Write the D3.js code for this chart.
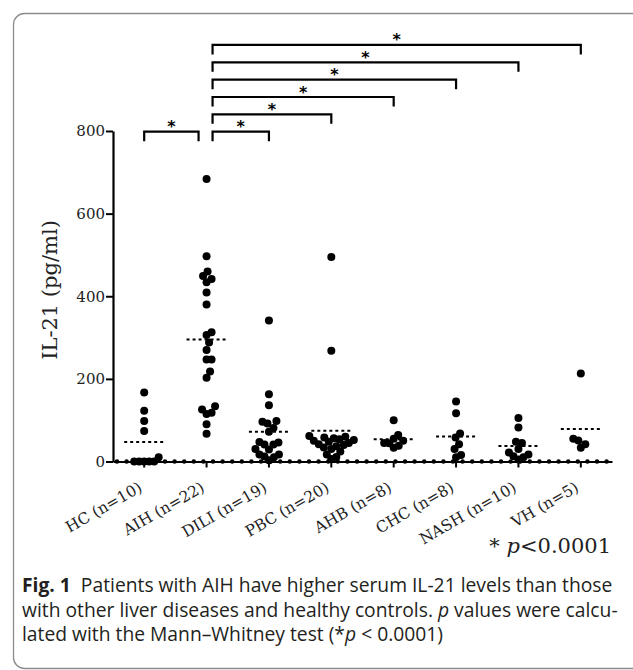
<!DOCTYPE html>
<html>
<head>
<meta charset="utf-8">
<script src="https://cdn.jsdelivr.net/npm/d3@7"></script>
<style>
    body { margin: 0; background: #fff; }
</style>
</head>
<body>
<div id="chart"></div>
<script>
// IL-21 serum levels per group (pg/ml)
var groups = ["HC (n=10)", "AIH (n=22)", "DILI (n=19)", "PBC (n=20)", "AHB (n=8)", "CHC (n=8)", "NASH (n=10)", "VH (n=5)"];
var hc = [167, 123, 98, 74, 10, 0, 0, 0, 0, 0];
var aih = [684, 497, 460, 449, 442, 434, 409, 380, 313, 306, 288, 270, 247, 247, 218, 203, 134, 126, 118, 115, 90, 67];
var dili = [341, 163, 136, 98, 96, 92, 81, 72, 47, 46, 41, 41, 30, 29, 17, 17, 12, 10, 3];
var pbc = [495, 268, 62, 60, 58, 56, 54, 52, 50, 48, 45, 42, 40, 37, 34, 30, 24, 17, 11, 6];
var ahb = [100, 64, 55, 50, 45, 44, 38, 33];
var chc = [145, 117, 68, 58, 42, 30, 16, 10];
var nash = [105, 82, 48, 45, 30, 22, 17, 13, 10, 5];
var vh = [213, 55, 51, 42, 33];
var groupValues = [hc, aih, dili, pbc, ahb, chc, nash, vh];
var yTicks = [0, 200, 400, 600, 800];
// significant pairs (group index), all * p<0.0001
var comparisons = [[0, 1], [1, 2], [1, 3], [1, 4], [1, 5], [1, 6], [1, 7]];
var sigMark = "*";

var W = 633, H = 670;
var plot = {left: 113, right: 612, top: 131, bottom: 461.5};
var serif = "DejaVu Serif";

var svg = d3.select("#chart").append("svg")
    .attr("width", W)
    .attr("height", H);

// card frame
svg.append("rect")
    .attr("x", 13.5).attr("y", 13.5)
    .attr("width", 680).attr("height", 655)
    .attr("rx", 11)
    .attr("fill", "none")
    .attr("stroke", "#8c8c8c")
    .attr("stroke-width", 1.3);

var x = d3.scaleBand().domain(groups).range([plot.left, plot.right]).padding(0);
var y = d3.scaleLinear().domain([0, 800]).range([plot.bottom, plot.top]);
function cx(g) { return x(g) + x.bandwidth() / 2; }

// y axis
var yAxis = svg.append("g")
    .attr("transform", "translate(" + plot.left + ",0)")
    .call(d3.axisLeft(y).tickValues(yTicks).tickSize(7).tickSizeOuter(0).tickPadding(1));
yAxis.select(".domain").attr("stroke-width", 2.2);
yAxis.selectAll(".tick line").attr("stroke-width", 2);
yAxis.selectAll("text")
    .attr("font-family", serif)
    .attr("font-size", 15)
    .attr("fill", "#222");

svg.append("text")
    .attr("transform", "translate(57," + 290 + ") rotate(-90)")
    .attr("text-anchor", "middle")
    .attr("font-family", serif)
    .attr("font-size", 21)
    .attr("fill", "#222")
    .text("IL-21 (pg/ml)");

// x axis
var xAxis = svg.append("g")
    .attr("transform", "translate(0," + plot.bottom + ")")
    .call(d3.axisBottom(x).tickSize(6).tickSizeOuter(0));
xAxis.select(".domain").attr("stroke-width", 2.2);
xAxis.selectAll(".tick line").attr("stroke-width", 2);
xAxis.selectAll("text")
    .attr("font-family", serif)
    .attr("font-size", 15.5)
    .attr("fill", "#222")
    .attr("text-anchor", "end")
    .attr("y", 0)
    .attr("dy", 0)
    .attr("transform", "translate(-1,29) rotate(-30)");

// dotted overlay on the baseline
svg.append("line")
    .attr("x1", plot.left + 4).attr("x2", plot.right)
    .attr("y1", plot.bottom).attr("y2", plot.bottom)
    .attr("stroke", "#000")
    .attr("stroke-width", 4.5)
    .attr("stroke-linecap", "round")
    .attr("stroke-dasharray", "0,9.6");

// simple beeswarm so tied values sit side by side
function swarm(vals, centre) {
    var ax = 5, ay = 8.5;
    var pts = vals.map(function (v) { return {v: v, y: y(v)}; })
        .sort(function (a, b) { return b.y - a.y; });
    var placed = [];
    pts.forEach(function (p) {
        for (var k = 0; k < 400; k++) {
            var off = (k % 2 ? 1 : -1) * Math.ceil(k / 2) * 0.5;
            var ok = placed.every(function (q) {
                var dx = (off - q.off) / ax, dy = (p.y - q.y) / ay;
                return dx * dx + dy * dy >= 1;
            });
            if (ok) { p.off = off; break; }
        }
        placed.push(p);
    });
    return placed.map(function (p) { return {x: centre + p.off, y: p.y}; });
}

groups.forEach(function (g, i) {
    var vals = groupValues[i];
    var c = cx(g);

    svg.append("line")
        .attr("x1", c - 20).attr("x2", c + 20)
        .attr("y1", y(d3.mean(vals))).attr("y2", y(d3.mean(vals)))
        .attr("stroke", "#000")
        .attr("stroke-width", 2)
        .attr("stroke-dasharray", "3,3");

    svg.selectAll(".dot-" + i)
        .data(swarm(vals, c))
        .enter()
        .append("circle")
        .attr("class", "dot-" + i)
        .attr("cx", function (d) { return d.x; })
        .attr("cy", function (d) { return d.y; })
        .attr("r", 4)
        .attr("fill", "#000");
});

// significance brackets
var brackets = svg.append("g");
comparisons.forEach(function (pair, i) {
    var a = groups[pair[0]], b = groups[pair[1]];
    var x1, x2;
    if (i === 0) { x1 = cx(a); x2 = cx(b) - 8; }
    else { x1 = cx(a) + 6; x2 = cx(b); }
    var top = plot.top + 0.7 - (i === 0 ? 0 : (i - 1) * 17.35);
    brackets.append("path")
        .attr("d", "M" + x1 + "," + (top + 9.5) + "V" + top + "H" + x2 + "V" + (top + 9.5))
        .attr("fill", "none")
        .attr("stroke", "#000")
        .attr("stroke-width", 2.2);
    brackets.append("text")
        .attr("x", (x1 + x2) / 2)
        .attr("y", top + 0.5)
        .attr("text-anchor", "middle")
        .attr("font-family", "DejaVu Sans")
        .attr("font-weight", "bold")
        .attr("font-size", 16)
        .text(sigMark);
});

// p-value note
var note = svg.append("text")
    .attr("x", 611).attr("y", 553)
    .attr("text-anchor", "end")
    .attr("font-family", serif)
    .attr("font-size", 21)
    .attr("fill", "#222");
note.append("tspan").text("* ");
note.append("tspan").attr("font-style", "italic").text("p");
note.append("tspan").text("<0.0001");

// caption
var caption = [
    [{t: "Fig. 1", b: true}, {t: "  Patients with AIH have higher serum IL-21 levels than those"}],
    [{t: "with other liver diseases and healthy controls. "}, {t: "p", i: true}, {t: " values were calcu-"}],
    [{t: "lated with the Mann\u2013Whitney test (*"}, {t: "p", i: true}, {t: " < 0.0001)"}]
];
var capLines = caption.map(function (parts, li) {
    var t = svg.append("text")
        .attr("x", 22).attr("y", 592 + li * 24.5)
        .attr("font-family", "Open Sans")
        .attr("font-size", 15)
        .attr("fill", "#231f20")
        .attr("xml:space", "preserve");
    parts.forEach(function (p) {
        t.append("tspan")
            .attr("font-weight", p.b ? "bold" : null)
            .attr("font-style", p.i ? "italic" : null)
            .text(p.t);
    });
    return t;
});
var fs = 15 * 591 / capLines[0].node().getComputedTextLength();
capLines.forEach(function (t) { t.attr("font-size", fs); });
</script>
</body>
</html>
